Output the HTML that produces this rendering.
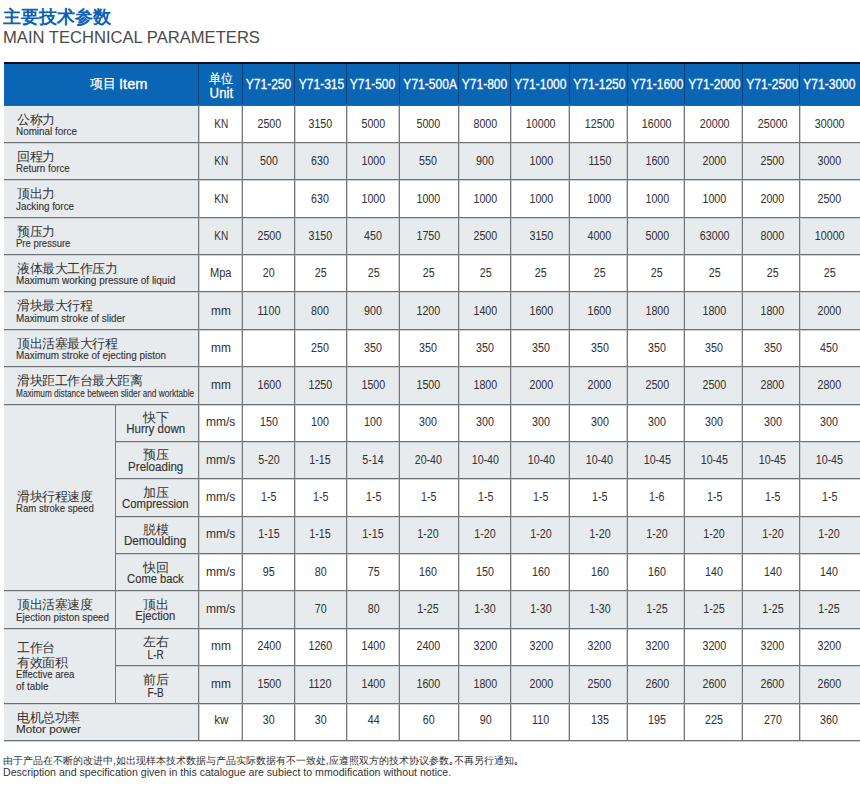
<!DOCTYPE html><html><head><meta charset="utf-8"><style>
*{margin:0;padding:0;box-sizing:border-box}
html,body{width:860px;height:789px;overflow:hidden;background:#fff}
body{position:relative;font-family:"Liberation Sans",sans-serif;color:#333333}
body>div{position:absolute;white-space:nowrap}
.title{font-size:18px;line-height:18px;font-weight:bold;color:#0a61b7}
.sub{font-size:16.6px;line-height:16.6px;color:#4a4a4a}
.hd{color:#fff;font-size:14px;line-height:14px;-webkit-text-stroke:0.3px #fff}
.hdz{color:#fff;font-size:13px;line-height:13px;transform:scaleX(0.92);transform-origin:50% 0;-webkit-text-stroke:0.2px #fff}
.hdz2{color:#fff;font-size:13px;line-height:14px;transform:scale(0.97);transform-origin:0 50%;-webkit-text-stroke:0.2px #fff}
.hdu{color:#fff;font-size:15px;line-height:15px;-webkit-text-stroke:0.3px #fff}
.hm{color:#fff;font-size:14px;line-height:14px;-webkit-text-stroke:0.3px #fff}
.d{font-size:12px;line-height:12px;-webkit-text-stroke:0.05px #333333}
.zh{font-size:13px;line-height:13px;transform:scale(0.965);transform-origin:0 0}
.zhc{font-size:13px;line-height:13px;transform:scale(0.965);transform-origin:50% 0}
.en{font-size:11.8px;line-height:11.8px;-webkit-text-stroke:0.15px #333333}
.en2{font-size:12px;line-height:12px;-webkit-text-stroke:0.15px #333333}
.fn{font-size:10.15px;line-height:10.15px;color:#333}
.fn2{font-size:10.6px;line-height:10.6px;color:#333}
</style></head><body>
<div class="title" style="left:3.00px;top:8.00px;">主要技术参数</div>
<div class="sub" style="left:3.00px;top:29.50px;">MAIN TECHNICAL PARAMETERS</div>
<div style="left:4.00px;top:62.00px;width:856.00px;height:2.00px;background:#0c0f1c"></div>
<div style="left:4.00px;top:64.00px;width:856.00px;height:41.00px;background:#0a65b5"></div>
<div style="left:4.00px;top:106.00px;width:194.00px;height:37.00px;background:#e8ebee"></div>
<div style="left:4.00px;top:143.00px;width:194.00px;height:37.00px;background:#e8ebee"></div>
<div style="left:198.00px;top:143.00px;width:662.00px;height:37.00px;background:#e8ebee"></div>
<div style="left:4.00px;top:180.00px;width:194.00px;height:38.00px;background:#e8ebee"></div>
<div style="left:4.00px;top:218.00px;width:194.00px;height:37.00px;background:#e8ebee"></div>
<div style="left:198.00px;top:218.00px;width:662.00px;height:37.00px;background:#e8ebee"></div>
<div style="left:4.00px;top:255.00px;width:194.00px;height:37.00px;background:#e8ebee"></div>
<div style="left:4.00px;top:292.00px;width:194.00px;height:38.00px;background:#e8ebee"></div>
<div style="left:198.00px;top:292.00px;width:662.00px;height:38.00px;background:#e8ebee"></div>
<div style="left:4.00px;top:330.00px;width:194.00px;height:37.00px;background:#e8ebee"></div>
<div style="left:4.00px;top:367.00px;width:194.00px;height:38.00px;background:#e8ebee"></div>
<div style="left:198.00px;top:367.00px;width:662.00px;height:38.00px;background:#e8ebee"></div>
<div style="left:4.00px;top:405.00px;width:194.00px;height:37.00px;background:#e8ebee"></div>
<div style="left:4.00px;top:442.00px;width:194.00px;height:37.00px;background:#e8ebee"></div>
<div style="left:198.00px;top:442.00px;width:662.00px;height:37.00px;background:#e8ebee"></div>
<div style="left:4.00px;top:479.00px;width:194.00px;height:38.00px;background:#e8ebee"></div>
<div style="left:4.00px;top:517.00px;width:194.00px;height:37.00px;background:#e8ebee"></div>
<div style="left:198.00px;top:517.00px;width:662.00px;height:37.00px;background:#e8ebee"></div>
<div style="left:4.00px;top:554.00px;width:194.00px;height:37.00px;background:#e8ebee"></div>
<div style="left:4.00px;top:591.00px;width:194.00px;height:38.00px;background:#e8ebee"></div>
<div style="left:198.00px;top:591.00px;width:662.00px;height:38.00px;background:#e8ebee"></div>
<div style="left:4.00px;top:629.00px;width:194.00px;height:37.00px;background:#e8ebee"></div>
<div style="left:4.00px;top:666.00px;width:194.00px;height:38.00px;background:#e8ebee"></div>
<div style="left:198.00px;top:666.00px;width:662.00px;height:38.00px;background:#e8ebee"></div>
<div style="left:4.00px;top:704.00px;width:194.00px;height:37.00px;background:#e8ebee"></div>
<div style="left:198.00px;top:64.00px;width:1.00px;height:40.00px;background:#0b3f75"></div>
<div style="left:199.00px;top:105.00px;width:1.00px;height:635.00px;background:#cdd0d3"></div>
<div style="left:242.00px;top:64.00px;width:1.00px;height:40.00px;background:#0b3f75"></div>
<div style="left:241.00px;top:105.00px;width:1.00px;height:635.00px;background:#cdd0d3"></div>
<div style="left:294.00px;top:64.00px;width:1.00px;height:40.00px;background:#0b3f75"></div>
<div style="left:295.00px;top:105.00px;width:1.00px;height:635.00px;background:#cdd0d3"></div>
<div style="left:346.00px;top:64.00px;width:1.00px;height:40.00px;background:#0b3f75"></div>
<div style="left:347.00px;top:105.00px;width:1.00px;height:635.00px;background:#cdd0d3"></div>
<div style="left:399.00px;top:64.00px;width:1.00px;height:40.00px;background:#0b3f75"></div>
<div style="left:398.00px;top:105.00px;width:1.00px;height:635.00px;background:#cdd0d3"></div>
<div style="left:458.00px;top:64.00px;width:1.00px;height:40.00px;background:#0b3f75"></div>
<div style="left:459.00px;top:105.00px;width:1.00px;height:635.00px;background:#cdd0d3"></div>
<div style="left:510.00px;top:64.00px;width:1.00px;height:40.00px;background:#0b3f75"></div>
<div style="left:511.00px;top:105.00px;width:1.00px;height:635.00px;background:#cdd0d3"></div>
<div style="left:569.00px;top:64.00px;width:1.00px;height:40.00px;background:#0b3f75"></div>
<div style="left:568.00px;top:105.00px;width:1.00px;height:635.00px;background:#cdd0d3"></div>
<div style="left:627.00px;top:64.00px;width:1.00px;height:40.00px;background:#0b3f75"></div>
<div style="left:626.00px;top:105.00px;width:1.00px;height:635.00px;background:#cdd0d3"></div>
<div style="left:684.00px;top:64.00px;width:1.00px;height:40.00px;background:#0b3f75"></div>
<div style="left:683.00px;top:105.00px;width:1.00px;height:635.00px;background:#cdd0d3"></div>
<div style="left:742.00px;top:64.00px;width:1.00px;height:40.00px;background:#0b3f75"></div>
<div style="left:741.00px;top:105.00px;width:1.00px;height:635.00px;background:#cdd0d3"></div>
<div style="left:799.00px;top:64.00px;width:1.00px;height:40.00px;background:#0b3f75"></div>
<div style="left:800.00px;top:105.00px;width:1.00px;height:635.00px;background:#cdd0d3"></div>
<div style="left:4.00px;top:142.00px;width:856.00px;height:1.00px;background:#6e7174"></div>
<div style="left:4.00px;top:143.00px;width:856.00px;height:1.00px;background:#cdd0d3"></div>
<div style="left:4.00px;top:179.00px;width:856.00px;height:1.00px;background:#6e7174"></div>
<div style="left:4.00px;top:180.00px;width:856.00px;height:1.00px;background:#cdd0d3"></div>
<div style="left:4.00px;top:217.00px;width:856.00px;height:1.00px;background:#6e7174"></div>
<div style="left:4.00px;top:218.00px;width:856.00px;height:1.00px;background:#cdd0d3"></div>
<div style="left:4.00px;top:254.00px;width:856.00px;height:1.00px;background:#6e7174"></div>
<div style="left:4.00px;top:255.00px;width:856.00px;height:1.00px;background:#cdd0d3"></div>
<div style="left:4.00px;top:291.00px;width:856.00px;height:1.00px;background:#6e7174"></div>
<div style="left:4.00px;top:292.00px;width:856.00px;height:1.00px;background:#cdd0d3"></div>
<div style="left:4.00px;top:329.00px;width:856.00px;height:1.00px;background:#6e7174"></div>
<div style="left:4.00px;top:330.00px;width:856.00px;height:1.00px;background:#cdd0d3"></div>
<div style="left:4.00px;top:366.00px;width:856.00px;height:1.00px;background:#6e7174"></div>
<div style="left:4.00px;top:367.00px;width:856.00px;height:1.00px;background:#cdd0d3"></div>
<div style="left:4.00px;top:404.00px;width:856.00px;height:1.00px;background:#6e7174"></div>
<div style="left:4.00px;top:405.00px;width:856.00px;height:1.00px;background:#cdd0d3"></div>
<div style="left:115.00px;top:441.00px;width:745.00px;height:1.00px;background:#6e7174"></div>
<div style="left:115.00px;top:442.00px;width:745.00px;height:1.00px;background:#cdd0d3"></div>
<div style="left:115.00px;top:478.00px;width:745.00px;height:1.00px;background:#6e7174"></div>
<div style="left:115.00px;top:479.00px;width:745.00px;height:1.00px;background:#cdd0d3"></div>
<div style="left:115.00px;top:516.00px;width:745.00px;height:1.00px;background:#6e7174"></div>
<div style="left:115.00px;top:517.00px;width:745.00px;height:1.00px;background:#cdd0d3"></div>
<div style="left:115.00px;top:553.00px;width:745.00px;height:1.00px;background:#6e7174"></div>
<div style="left:115.00px;top:554.00px;width:745.00px;height:1.00px;background:#cdd0d3"></div>
<div style="left:4.00px;top:590.00px;width:856.00px;height:1.00px;background:#6e7174"></div>
<div style="left:4.00px;top:591.00px;width:856.00px;height:1.00px;background:#cdd0d3"></div>
<div style="left:4.00px;top:628.00px;width:856.00px;height:1.00px;background:#6e7174"></div>
<div style="left:4.00px;top:629.00px;width:856.00px;height:1.00px;background:#cdd0d3"></div>
<div style="left:115.00px;top:665.00px;width:745.00px;height:1.00px;background:#6e7174"></div>
<div style="left:115.00px;top:666.00px;width:745.00px;height:1.00px;background:#cdd0d3"></div>
<div style="left:4.00px;top:703.00px;width:856.00px;height:1.00px;background:#6e7174"></div>
<div style="left:4.00px;top:704.00px;width:856.00px;height:1.00px;background:#cdd0d3"></div>
<div style="left:4.00px;top:740.00px;width:856.00px;height:1.00px;background:#6e7174"></div>
<div style="left:4.00px;top:741.00px;width:856.00px;height:1.00px;background:#cdd0d3"></div>
<div style="left:4.00px;top:105.00px;width:856.00px;height:1.00px;background:#4f5f70"></div>
<div style="left:198.00px;top:105.00px;width:1.00px;height:635.00px;background:#74777a"></div>
<div style="left:242.00px;top:105.00px;width:1.00px;height:635.00px;background:#74777a"></div>
<div style="left:294.00px;top:105.00px;width:1.00px;height:635.00px;background:#74777a"></div>
<div style="left:346.00px;top:105.00px;width:1.00px;height:635.00px;background:#74777a"></div>
<div style="left:399.00px;top:105.00px;width:1.00px;height:635.00px;background:#74777a"></div>
<div style="left:458.00px;top:105.00px;width:1.00px;height:635.00px;background:#74777a"></div>
<div style="left:510.00px;top:105.00px;width:1.00px;height:635.00px;background:#74777a"></div>
<div style="left:569.00px;top:105.00px;width:1.00px;height:635.00px;background:#74777a"></div>
<div style="left:627.00px;top:105.00px;width:1.00px;height:635.00px;background:#74777a"></div>
<div style="left:684.00px;top:105.00px;width:1.00px;height:635.00px;background:#74777a"></div>
<div style="left:742.00px;top:105.00px;width:1.00px;height:635.00px;background:#74777a"></div>
<div style="left:799.00px;top:105.00px;width:1.00px;height:635.00px;background:#74777a"></div>
<div style="left:115.00px;top:404.00px;width:1.00px;height:300.00px;background:#74777a"></div>
<div class="hdz2" style="left:90.00px;top:76.50px;">项目</div>
<div class="hd" style="left:119.30px;top:76.50px;"><span style="display:inline-block;transform:scaleX(1.047);transform-origin:left 50%">Item</span></div>
<div class="hdz" style="left:198.50px;top:71.50px;width:44.00px;text-align:center;padding-left:1px">单位</div>
<div class="hdu" style="left:198.50px;top:85.00px;width:44.00px;text-align:center;padding-left:1px"><span style="display:inline-block;transform:scaleX(0.880);transform-origin:center 50%">Unit</span></div>
<div class="hm" style="left:242.20px;top:77.00px;width:52.40px;text-align:center;"><span style="display:inline-block;transform:scaleX(0.860);transform-origin:center 50%">Y71-250</span></div>
<div class="hm" style="left:294.60px;top:77.00px;width:51.60px;text-align:center;"><span style="display:inline-block;transform:scaleX(0.860);transform-origin:center 50%">Y71-315</span></div>
<div class="hm" style="left:346.20px;top:77.00px;width:53.00px;text-align:center;"><span style="display:inline-block;transform:scaleX(0.860);transform-origin:center 50%">Y71-500</span></div>
<div class="hm" style="left:399.20px;top:77.00px;width:59.00px;text-align:center;"><span style="display:inline-block;transform:scaleX(0.860);transform-origin:center 50%">Y71-500A</span></div>
<div class="hm" style="left:458.20px;top:77.00px;width:52.00px;text-align:center;"><span style="display:inline-block;transform:scaleX(0.860);transform-origin:center 50%">Y71-800</span></div>
<div class="hm" style="left:510.20px;top:77.00px;width:59.00px;text-align:center;"><span style="display:inline-block;transform:scaleX(0.860);transform-origin:center 50%">Y71-1000</span></div>
<div class="hm" style="left:569.20px;top:77.00px;width:57.70px;text-align:center;"><span style="display:inline-block;transform:scaleX(0.860);transform-origin:center 50%">Y71-1250</span></div>
<div class="hm" style="left:626.90px;top:77.00px;width:57.30px;text-align:center;"><span style="display:inline-block;transform:scaleX(0.860);transform-origin:center 50%">Y71-1600</span></div>
<div class="hm" style="left:684.20px;top:77.00px;width:57.70px;text-align:center;"><span style="display:inline-block;transform:scaleX(0.860);transform-origin:center 50%">Y71-2000</span></div>
<div class="hm" style="left:741.90px;top:77.00px;width:57.30px;text-align:center;"><span style="display:inline-block;transform:scaleX(0.860);transform-origin:center 50%">Y71-2500</span></div>
<div class="hm" style="left:799.20px;top:77.00px;width:60.50px;text-align:center;"><span style="display:inline-block;transform:scaleX(0.860);transform-origin:center 50%">Y71-3000</span></div>
<div class="d" style="left:199.10px;top:117.96px;width:44.00px;text-align:center;"><span style="display:inline-block;transform:scaleX(0.839);transform-origin:center 50%">KN</span></div>
<div class="d" style="left:242.90px;top:117.96px;width:52.40px;text-align:center;"><span style="display:inline-block;transform:scaleX(0.890);transform-origin:center 50%">2500</span></div>
<div class="d" style="left:294.60px;top:117.96px;width:51.60px;text-align:center;"><span style="display:inline-block;transform:scaleX(0.890);transform-origin:center 50%">3150</span></div>
<div class="d" style="left:346.80px;top:117.96px;width:53.00px;text-align:center;"><span style="display:inline-block;transform:scaleX(0.890);transform-origin:center 50%">5000</span></div>
<div class="d" style="left:399.00px;top:117.96px;width:59.00px;text-align:center;"><span style="display:inline-block;transform:scaleX(0.890);transform-origin:center 50%">5000</span></div>
<div class="d" style="left:459.30px;top:117.96px;width:52.00px;text-align:center;"><span style="display:inline-block;transform:scaleX(0.890);transform-origin:center 50%">8000</span></div>
<div class="d" style="left:511.50px;top:117.96px;width:59.00px;text-align:center;"><span style="display:inline-block;transform:scaleX(0.890);transform-origin:center 50%">10000</span></div>
<div class="d" style="left:570.90px;top:117.96px;width:57.70px;text-align:center;"><span style="display:inline-block;transform:scaleX(0.890);transform-origin:center 50%">12500</span></div>
<div class="d" style="left:628.30px;top:117.96px;width:57.30px;text-align:center;"><span style="display:inline-block;transform:scaleX(0.890);transform-origin:center 50%">16000</span></div>
<div class="d" style="left:685.40px;top:117.96px;width:57.70px;text-align:center;"><span style="display:inline-block;transform:scaleX(0.890);transform-origin:center 50%">20000</span></div>
<div class="d" style="left:743.90px;top:117.96px;width:57.30px;text-align:center;"><span style="display:inline-block;transform:scaleX(0.890);transform-origin:center 50%">25000</span></div>
<div class="d" style="left:799.10px;top:117.96px;width:60.50px;text-align:center;"><span style="display:inline-block;transform:scaleX(0.890);transform-origin:center 50%">30000</span></div>
<div class="d" style="left:199.10px;top:155.27px;width:44.00px;text-align:center;"><span style="display:inline-block;transform:scaleX(0.839);transform-origin:center 50%">KN</span></div>
<div class="d" style="left:242.90px;top:155.27px;width:52.40px;text-align:center;"><span style="display:inline-block;transform:scaleX(0.890);transform-origin:center 50%">500</span></div>
<div class="d" style="left:294.60px;top:155.27px;width:51.60px;text-align:center;"><span style="display:inline-block;transform:scaleX(0.890);transform-origin:center 50%">630</span></div>
<div class="d" style="left:346.80px;top:155.27px;width:53.00px;text-align:center;"><span style="display:inline-block;transform:scaleX(0.890);transform-origin:center 50%">1000</span></div>
<div class="d" style="left:399.00px;top:155.27px;width:59.00px;text-align:center;"><span style="display:inline-block;transform:scaleX(0.890);transform-origin:center 50%">550</span></div>
<div class="d" style="left:459.30px;top:155.27px;width:52.00px;text-align:center;"><span style="display:inline-block;transform:scaleX(0.890);transform-origin:center 50%">900</span></div>
<div class="d" style="left:511.50px;top:155.27px;width:59.00px;text-align:center;"><span style="display:inline-block;transform:scaleX(0.890);transform-origin:center 50%">1000</span></div>
<div class="d" style="left:570.90px;top:155.27px;width:57.70px;text-align:center;"><span style="display:inline-block;transform:scaleX(0.890);transform-origin:center 50%">1150</span></div>
<div class="d" style="left:628.30px;top:155.27px;width:57.30px;text-align:center;"><span style="display:inline-block;transform:scaleX(0.890);transform-origin:center 50%">1600</span></div>
<div class="d" style="left:685.40px;top:155.27px;width:57.70px;text-align:center;"><span style="display:inline-block;transform:scaleX(0.890);transform-origin:center 50%">2000</span></div>
<div class="d" style="left:743.90px;top:155.27px;width:57.30px;text-align:center;"><span style="display:inline-block;transform:scaleX(0.890);transform-origin:center 50%">2500</span></div>
<div class="d" style="left:799.10px;top:155.27px;width:60.50px;text-align:center;"><span style="display:inline-block;transform:scaleX(0.890);transform-origin:center 50%">3000</span></div>
<div class="d" style="left:199.10px;top:192.58px;width:44.00px;text-align:center;"><span style="display:inline-block;transform:scaleX(0.839);transform-origin:center 50%">KN</span></div>
<div class="d" style="left:294.60px;top:192.58px;width:51.60px;text-align:center;"><span style="display:inline-block;transform:scaleX(0.890);transform-origin:center 50%">630</span></div>
<div class="d" style="left:346.80px;top:192.58px;width:53.00px;text-align:center;"><span style="display:inline-block;transform:scaleX(0.890);transform-origin:center 50%">1000</span></div>
<div class="d" style="left:399.00px;top:192.58px;width:59.00px;text-align:center;"><span style="display:inline-block;transform:scaleX(0.890);transform-origin:center 50%">1000</span></div>
<div class="d" style="left:459.30px;top:192.58px;width:52.00px;text-align:center;"><span style="display:inline-block;transform:scaleX(0.890);transform-origin:center 50%">1000</span></div>
<div class="d" style="left:511.50px;top:192.58px;width:59.00px;text-align:center;"><span style="display:inline-block;transform:scaleX(0.890);transform-origin:center 50%">1000</span></div>
<div class="d" style="left:570.90px;top:192.58px;width:57.70px;text-align:center;"><span style="display:inline-block;transform:scaleX(0.890);transform-origin:center 50%">1000</span></div>
<div class="d" style="left:628.30px;top:192.58px;width:57.30px;text-align:center;"><span style="display:inline-block;transform:scaleX(0.890);transform-origin:center 50%">1000</span></div>
<div class="d" style="left:685.40px;top:192.58px;width:57.70px;text-align:center;"><span style="display:inline-block;transform:scaleX(0.890);transform-origin:center 50%">1000</span></div>
<div class="d" style="left:743.90px;top:192.58px;width:57.30px;text-align:center;"><span style="display:inline-block;transform:scaleX(0.890);transform-origin:center 50%">2000</span></div>
<div class="d" style="left:799.10px;top:192.58px;width:60.50px;text-align:center;"><span style="display:inline-block;transform:scaleX(0.890);transform-origin:center 50%">2500</span></div>
<div class="d" style="left:199.10px;top:229.89px;width:44.00px;text-align:center;"><span style="display:inline-block;transform:scaleX(0.839);transform-origin:center 50%">KN</span></div>
<div class="d" style="left:242.90px;top:229.89px;width:52.40px;text-align:center;"><span style="display:inline-block;transform:scaleX(0.890);transform-origin:center 50%">2500</span></div>
<div class="d" style="left:294.60px;top:229.89px;width:51.60px;text-align:center;"><span style="display:inline-block;transform:scaleX(0.890);transform-origin:center 50%">3150</span></div>
<div class="d" style="left:346.80px;top:229.89px;width:53.00px;text-align:center;"><span style="display:inline-block;transform:scaleX(0.890);transform-origin:center 50%">450</span></div>
<div class="d" style="left:399.00px;top:229.89px;width:59.00px;text-align:center;"><span style="display:inline-block;transform:scaleX(0.890);transform-origin:center 50%">1750</span></div>
<div class="d" style="left:459.30px;top:229.89px;width:52.00px;text-align:center;"><span style="display:inline-block;transform:scaleX(0.890);transform-origin:center 50%">2500</span></div>
<div class="d" style="left:511.50px;top:229.89px;width:59.00px;text-align:center;"><span style="display:inline-block;transform:scaleX(0.890);transform-origin:center 50%">3150</span></div>
<div class="d" style="left:570.90px;top:229.89px;width:57.70px;text-align:center;"><span style="display:inline-block;transform:scaleX(0.890);transform-origin:center 50%">4000</span></div>
<div class="d" style="left:628.30px;top:229.89px;width:57.30px;text-align:center;"><span style="display:inline-block;transform:scaleX(0.890);transform-origin:center 50%">5000</span></div>
<div class="d" style="left:685.40px;top:229.89px;width:57.70px;text-align:center;"><span style="display:inline-block;transform:scaleX(0.890);transform-origin:center 50%">63000</span></div>
<div class="d" style="left:743.90px;top:229.89px;width:57.30px;text-align:center;"><span style="display:inline-block;transform:scaleX(0.890);transform-origin:center 50%">8000</span></div>
<div class="d" style="left:799.10px;top:229.89px;width:60.50px;text-align:center;"><span style="display:inline-block;transform:scaleX(0.890);transform-origin:center 50%">10000</span></div>
<div class="d" style="left:199.10px;top:267.20px;width:44.00px;text-align:center;"><span style="display:inline-block;transform:scaleX(0.919);transform-origin:center 50%">Mpa</span></div>
<div class="d" style="left:242.90px;top:267.20px;width:52.40px;text-align:center;"><span style="display:inline-block;transform:scaleX(0.890);transform-origin:center 50%">20</span></div>
<div class="d" style="left:294.60px;top:267.20px;width:51.60px;text-align:center;"><span style="display:inline-block;transform:scaleX(0.890);transform-origin:center 50%">25</span></div>
<div class="d" style="left:346.80px;top:267.20px;width:53.00px;text-align:center;"><span style="display:inline-block;transform:scaleX(0.890);transform-origin:center 50%">25</span></div>
<div class="d" style="left:399.00px;top:267.20px;width:59.00px;text-align:center;"><span style="display:inline-block;transform:scaleX(0.890);transform-origin:center 50%">25</span></div>
<div class="d" style="left:459.30px;top:267.20px;width:52.00px;text-align:center;"><span style="display:inline-block;transform:scaleX(0.890);transform-origin:center 50%">25</span></div>
<div class="d" style="left:511.50px;top:267.20px;width:59.00px;text-align:center;"><span style="display:inline-block;transform:scaleX(0.890);transform-origin:center 50%">25</span></div>
<div class="d" style="left:570.90px;top:267.20px;width:57.70px;text-align:center;"><span style="display:inline-block;transform:scaleX(0.890);transform-origin:center 50%">25</span></div>
<div class="d" style="left:628.30px;top:267.20px;width:57.30px;text-align:center;"><span style="display:inline-block;transform:scaleX(0.890);transform-origin:center 50%">25</span></div>
<div class="d" style="left:685.40px;top:267.20px;width:57.70px;text-align:center;"><span style="display:inline-block;transform:scaleX(0.890);transform-origin:center 50%">25</span></div>
<div class="d" style="left:743.90px;top:267.20px;width:57.30px;text-align:center;"><span style="display:inline-block;transform:scaleX(0.890);transform-origin:center 50%">25</span></div>
<div class="d" style="left:799.10px;top:267.20px;width:60.50px;text-align:center;"><span style="display:inline-block;transform:scaleX(0.890);transform-origin:center 50%">25</span></div>
<div class="d" style="left:199.10px;top:304.50px;width:44.00px;text-align:center;"><span style="display:inline-block;transform:scaleX(0.991);transform-origin:center 50%">mm</span></div>
<div class="d" style="left:242.90px;top:304.50px;width:52.40px;text-align:center;"><span style="display:inline-block;transform:scaleX(0.890);transform-origin:center 50%">1100</span></div>
<div class="d" style="left:294.60px;top:304.50px;width:51.60px;text-align:center;"><span style="display:inline-block;transform:scaleX(0.890);transform-origin:center 50%">800</span></div>
<div class="d" style="left:346.80px;top:304.50px;width:53.00px;text-align:center;"><span style="display:inline-block;transform:scaleX(0.890);transform-origin:center 50%">900</span></div>
<div class="d" style="left:399.00px;top:304.50px;width:59.00px;text-align:center;"><span style="display:inline-block;transform:scaleX(0.890);transform-origin:center 50%">1200</span></div>
<div class="d" style="left:459.30px;top:304.50px;width:52.00px;text-align:center;"><span style="display:inline-block;transform:scaleX(0.890);transform-origin:center 50%">1400</span></div>
<div class="d" style="left:511.50px;top:304.50px;width:59.00px;text-align:center;"><span style="display:inline-block;transform:scaleX(0.890);transform-origin:center 50%">1600</span></div>
<div class="d" style="left:570.90px;top:304.50px;width:57.70px;text-align:center;"><span style="display:inline-block;transform:scaleX(0.890);transform-origin:center 50%">1600</span></div>
<div class="d" style="left:628.30px;top:304.50px;width:57.30px;text-align:center;"><span style="display:inline-block;transform:scaleX(0.890);transform-origin:center 50%">1800</span></div>
<div class="d" style="left:685.40px;top:304.50px;width:57.70px;text-align:center;"><span style="display:inline-block;transform:scaleX(0.890);transform-origin:center 50%">1800</span></div>
<div class="d" style="left:743.90px;top:304.50px;width:57.30px;text-align:center;"><span style="display:inline-block;transform:scaleX(0.890);transform-origin:center 50%">1800</span></div>
<div class="d" style="left:799.10px;top:304.50px;width:60.50px;text-align:center;"><span style="display:inline-block;transform:scaleX(0.890);transform-origin:center 50%">2000</span></div>
<div class="d" style="left:199.10px;top:341.81px;width:44.00px;text-align:center;"><span style="display:inline-block;transform:scaleX(0.991);transform-origin:center 50%">mm</span></div>
<div class="d" style="left:294.60px;top:341.81px;width:51.60px;text-align:center;"><span style="display:inline-block;transform:scaleX(0.890);transform-origin:center 50%">250</span></div>
<div class="d" style="left:346.80px;top:341.81px;width:53.00px;text-align:center;"><span style="display:inline-block;transform:scaleX(0.890);transform-origin:center 50%">350</span></div>
<div class="d" style="left:399.00px;top:341.81px;width:59.00px;text-align:center;"><span style="display:inline-block;transform:scaleX(0.890);transform-origin:center 50%">350</span></div>
<div class="d" style="left:459.30px;top:341.81px;width:52.00px;text-align:center;"><span style="display:inline-block;transform:scaleX(0.890);transform-origin:center 50%">350</span></div>
<div class="d" style="left:511.50px;top:341.81px;width:59.00px;text-align:center;"><span style="display:inline-block;transform:scaleX(0.890);transform-origin:center 50%">350</span></div>
<div class="d" style="left:570.90px;top:341.81px;width:57.70px;text-align:center;"><span style="display:inline-block;transform:scaleX(0.890);transform-origin:center 50%">350</span></div>
<div class="d" style="left:628.30px;top:341.81px;width:57.30px;text-align:center;"><span style="display:inline-block;transform:scaleX(0.890);transform-origin:center 50%">350</span></div>
<div class="d" style="left:685.40px;top:341.81px;width:57.70px;text-align:center;"><span style="display:inline-block;transform:scaleX(0.890);transform-origin:center 50%">350</span></div>
<div class="d" style="left:743.90px;top:341.81px;width:57.30px;text-align:center;"><span style="display:inline-block;transform:scaleX(0.890);transform-origin:center 50%">350</span></div>
<div class="d" style="left:799.10px;top:341.81px;width:60.50px;text-align:center;"><span style="display:inline-block;transform:scaleX(0.890);transform-origin:center 50%">450</span></div>
<div class="d" style="left:199.10px;top:379.12px;width:44.00px;text-align:center;"><span style="display:inline-block;transform:scaleX(0.991);transform-origin:center 50%">mm</span></div>
<div class="d" style="left:242.90px;top:379.12px;width:52.40px;text-align:center;"><span style="display:inline-block;transform:scaleX(0.890);transform-origin:center 50%">1600</span></div>
<div class="d" style="left:294.60px;top:379.12px;width:51.60px;text-align:center;"><span style="display:inline-block;transform:scaleX(0.890);transform-origin:center 50%">1250</span></div>
<div class="d" style="left:346.80px;top:379.12px;width:53.00px;text-align:center;"><span style="display:inline-block;transform:scaleX(0.890);transform-origin:center 50%">1500</span></div>
<div class="d" style="left:399.00px;top:379.12px;width:59.00px;text-align:center;"><span style="display:inline-block;transform:scaleX(0.890);transform-origin:center 50%">1500</span></div>
<div class="d" style="left:459.30px;top:379.12px;width:52.00px;text-align:center;"><span style="display:inline-block;transform:scaleX(0.890);transform-origin:center 50%">1800</span></div>
<div class="d" style="left:511.50px;top:379.12px;width:59.00px;text-align:center;"><span style="display:inline-block;transform:scaleX(0.890);transform-origin:center 50%">2000</span></div>
<div class="d" style="left:570.90px;top:379.12px;width:57.70px;text-align:center;"><span style="display:inline-block;transform:scaleX(0.890);transform-origin:center 50%">2000</span></div>
<div class="d" style="left:628.30px;top:379.12px;width:57.30px;text-align:center;"><span style="display:inline-block;transform:scaleX(0.890);transform-origin:center 50%">2500</span></div>
<div class="d" style="left:685.40px;top:379.12px;width:57.70px;text-align:center;"><span style="display:inline-block;transform:scaleX(0.890);transform-origin:center 50%">2500</span></div>
<div class="d" style="left:743.90px;top:379.12px;width:57.30px;text-align:center;"><span style="display:inline-block;transform:scaleX(0.890);transform-origin:center 50%">2800</span></div>
<div class="d" style="left:799.10px;top:379.12px;width:60.50px;text-align:center;"><span style="display:inline-block;transform:scaleX(0.890);transform-origin:center 50%">2800</span></div>
<div class="d" style="left:199.10px;top:416.43px;width:44.00px;text-align:center;"><span style="display:inline-block;transform:scaleX(1.002);transform-origin:center 50%">mm/s</span></div>
<div class="d" style="left:242.90px;top:416.43px;width:52.40px;text-align:center;"><span style="display:inline-block;transform:scaleX(0.890);transform-origin:center 50%">150</span></div>
<div class="d" style="left:294.60px;top:416.43px;width:51.60px;text-align:center;"><span style="display:inline-block;transform:scaleX(0.890);transform-origin:center 50%">100</span></div>
<div class="d" style="left:346.80px;top:416.43px;width:53.00px;text-align:center;"><span style="display:inline-block;transform:scaleX(0.890);transform-origin:center 50%">100</span></div>
<div class="d" style="left:399.00px;top:416.43px;width:59.00px;text-align:center;"><span style="display:inline-block;transform:scaleX(0.890);transform-origin:center 50%">300</span></div>
<div class="d" style="left:459.30px;top:416.43px;width:52.00px;text-align:center;"><span style="display:inline-block;transform:scaleX(0.890);transform-origin:center 50%">300</span></div>
<div class="d" style="left:511.50px;top:416.43px;width:59.00px;text-align:center;"><span style="display:inline-block;transform:scaleX(0.890);transform-origin:center 50%">300</span></div>
<div class="d" style="left:570.90px;top:416.43px;width:57.70px;text-align:center;"><span style="display:inline-block;transform:scaleX(0.890);transform-origin:center 50%">300</span></div>
<div class="d" style="left:628.30px;top:416.43px;width:57.30px;text-align:center;"><span style="display:inline-block;transform:scaleX(0.890);transform-origin:center 50%">300</span></div>
<div class="d" style="left:685.40px;top:416.43px;width:57.70px;text-align:center;"><span style="display:inline-block;transform:scaleX(0.890);transform-origin:center 50%">300</span></div>
<div class="d" style="left:743.90px;top:416.43px;width:57.30px;text-align:center;"><span style="display:inline-block;transform:scaleX(0.890);transform-origin:center 50%">300</span></div>
<div class="d" style="left:799.10px;top:416.43px;width:60.50px;text-align:center;"><span style="display:inline-block;transform:scaleX(0.890);transform-origin:center 50%">300</span></div>
<div class="d" style="left:199.10px;top:453.74px;width:44.00px;text-align:center;"><span style="display:inline-block;transform:scaleX(1.002);transform-origin:center 50%">mm/s</span></div>
<div class="d" style="left:242.90px;top:453.74px;width:52.40px;text-align:center;"><span style="display:inline-block;transform:scaleX(0.890);transform-origin:center 50%">5-20</span></div>
<div class="d" style="left:294.60px;top:453.74px;width:51.60px;text-align:center;"><span style="display:inline-block;transform:scaleX(0.890);transform-origin:center 50%">1-15</span></div>
<div class="d" style="left:346.80px;top:453.74px;width:53.00px;text-align:center;"><span style="display:inline-block;transform:scaleX(0.890);transform-origin:center 50%">5-14</span></div>
<div class="d" style="left:399.00px;top:453.74px;width:59.00px;text-align:center;"><span style="display:inline-block;transform:scaleX(0.890);transform-origin:center 50%">20-40</span></div>
<div class="d" style="left:459.30px;top:453.74px;width:52.00px;text-align:center;"><span style="display:inline-block;transform:scaleX(0.890);transform-origin:center 50%">10-40</span></div>
<div class="d" style="left:511.50px;top:453.74px;width:59.00px;text-align:center;"><span style="display:inline-block;transform:scaleX(0.890);transform-origin:center 50%">10-40</span></div>
<div class="d" style="left:570.90px;top:453.74px;width:57.70px;text-align:center;"><span style="display:inline-block;transform:scaleX(0.890);transform-origin:center 50%">10-40</span></div>
<div class="d" style="left:628.30px;top:453.74px;width:57.30px;text-align:center;"><span style="display:inline-block;transform:scaleX(0.890);transform-origin:center 50%">10-45</span></div>
<div class="d" style="left:685.40px;top:453.74px;width:57.70px;text-align:center;"><span style="display:inline-block;transform:scaleX(0.890);transform-origin:center 50%">10-45</span></div>
<div class="d" style="left:743.90px;top:453.74px;width:57.30px;text-align:center;"><span style="display:inline-block;transform:scaleX(0.890);transform-origin:center 50%">10-45</span></div>
<div class="d" style="left:799.10px;top:453.74px;width:60.50px;text-align:center;"><span style="display:inline-block;transform:scaleX(0.890);transform-origin:center 50%">10-45</span></div>
<div class="d" style="left:199.10px;top:491.05px;width:44.00px;text-align:center;"><span style="display:inline-block;transform:scaleX(1.002);transform-origin:center 50%">mm/s</span></div>
<div class="d" style="left:242.90px;top:491.05px;width:52.40px;text-align:center;"><span style="display:inline-block;transform:scaleX(0.890);transform-origin:center 50%">1-5</span></div>
<div class="d" style="left:294.60px;top:491.05px;width:51.60px;text-align:center;"><span style="display:inline-block;transform:scaleX(0.890);transform-origin:center 50%">1-5</span></div>
<div class="d" style="left:346.80px;top:491.05px;width:53.00px;text-align:center;"><span style="display:inline-block;transform:scaleX(0.890);transform-origin:center 50%">1-5</span></div>
<div class="d" style="left:399.00px;top:491.05px;width:59.00px;text-align:center;"><span style="display:inline-block;transform:scaleX(0.890);transform-origin:center 50%">1-5</span></div>
<div class="d" style="left:459.30px;top:491.05px;width:52.00px;text-align:center;"><span style="display:inline-block;transform:scaleX(0.890);transform-origin:center 50%">1-5</span></div>
<div class="d" style="left:511.50px;top:491.05px;width:59.00px;text-align:center;"><span style="display:inline-block;transform:scaleX(0.890);transform-origin:center 50%">1-5</span></div>
<div class="d" style="left:570.90px;top:491.05px;width:57.70px;text-align:center;"><span style="display:inline-block;transform:scaleX(0.890);transform-origin:center 50%">1-5</span></div>
<div class="d" style="left:628.30px;top:491.05px;width:57.30px;text-align:center;"><span style="display:inline-block;transform:scaleX(0.890);transform-origin:center 50%">1-6</span></div>
<div class="d" style="left:685.40px;top:491.05px;width:57.70px;text-align:center;"><span style="display:inline-block;transform:scaleX(0.890);transform-origin:center 50%">1-5</span></div>
<div class="d" style="left:743.90px;top:491.05px;width:57.30px;text-align:center;"><span style="display:inline-block;transform:scaleX(0.890);transform-origin:center 50%">1-5</span></div>
<div class="d" style="left:799.10px;top:491.05px;width:60.50px;text-align:center;"><span style="display:inline-block;transform:scaleX(0.890);transform-origin:center 50%">1-5</span></div>
<div class="d" style="left:199.10px;top:528.36px;width:44.00px;text-align:center;"><span style="display:inline-block;transform:scaleX(1.002);transform-origin:center 50%">mm/s</span></div>
<div class="d" style="left:242.90px;top:528.36px;width:52.40px;text-align:center;"><span style="display:inline-block;transform:scaleX(0.890);transform-origin:center 50%">1-15</span></div>
<div class="d" style="left:294.60px;top:528.36px;width:51.60px;text-align:center;"><span style="display:inline-block;transform:scaleX(0.890);transform-origin:center 50%">1-15</span></div>
<div class="d" style="left:346.80px;top:528.36px;width:53.00px;text-align:center;"><span style="display:inline-block;transform:scaleX(0.890);transform-origin:center 50%">1-15</span></div>
<div class="d" style="left:399.00px;top:528.36px;width:59.00px;text-align:center;"><span style="display:inline-block;transform:scaleX(0.890);transform-origin:center 50%">1-20</span></div>
<div class="d" style="left:459.30px;top:528.36px;width:52.00px;text-align:center;"><span style="display:inline-block;transform:scaleX(0.890);transform-origin:center 50%">1-20</span></div>
<div class="d" style="left:511.50px;top:528.36px;width:59.00px;text-align:center;"><span style="display:inline-block;transform:scaleX(0.890);transform-origin:center 50%">1-20</span></div>
<div class="d" style="left:570.90px;top:528.36px;width:57.70px;text-align:center;"><span style="display:inline-block;transform:scaleX(0.890);transform-origin:center 50%">1-20</span></div>
<div class="d" style="left:628.30px;top:528.36px;width:57.30px;text-align:center;"><span style="display:inline-block;transform:scaleX(0.890);transform-origin:center 50%">1-20</span></div>
<div class="d" style="left:685.40px;top:528.36px;width:57.70px;text-align:center;"><span style="display:inline-block;transform:scaleX(0.890);transform-origin:center 50%">1-20</span></div>
<div class="d" style="left:743.90px;top:528.36px;width:57.30px;text-align:center;"><span style="display:inline-block;transform:scaleX(0.890);transform-origin:center 50%">1-20</span></div>
<div class="d" style="left:799.10px;top:528.36px;width:60.50px;text-align:center;"><span style="display:inline-block;transform:scaleX(0.890);transform-origin:center 50%">1-20</span></div>
<div class="d" style="left:199.10px;top:565.67px;width:44.00px;text-align:center;"><span style="display:inline-block;transform:scaleX(1.002);transform-origin:center 50%">mm/s</span></div>
<div class="d" style="left:242.90px;top:565.67px;width:52.40px;text-align:center;"><span style="display:inline-block;transform:scaleX(0.890);transform-origin:center 50%">95</span></div>
<div class="d" style="left:294.60px;top:565.67px;width:51.60px;text-align:center;"><span style="display:inline-block;transform:scaleX(0.890);transform-origin:center 50%">80</span></div>
<div class="d" style="left:346.80px;top:565.67px;width:53.00px;text-align:center;"><span style="display:inline-block;transform:scaleX(0.890);transform-origin:center 50%">75</span></div>
<div class="d" style="left:399.00px;top:565.67px;width:59.00px;text-align:center;"><span style="display:inline-block;transform:scaleX(0.890);transform-origin:center 50%">160</span></div>
<div class="d" style="left:459.30px;top:565.67px;width:52.00px;text-align:center;"><span style="display:inline-block;transform:scaleX(0.890);transform-origin:center 50%">150</span></div>
<div class="d" style="left:511.50px;top:565.67px;width:59.00px;text-align:center;"><span style="display:inline-block;transform:scaleX(0.890);transform-origin:center 50%">160</span></div>
<div class="d" style="left:570.90px;top:565.67px;width:57.70px;text-align:center;"><span style="display:inline-block;transform:scaleX(0.890);transform-origin:center 50%">160</span></div>
<div class="d" style="left:628.30px;top:565.67px;width:57.30px;text-align:center;"><span style="display:inline-block;transform:scaleX(0.890);transform-origin:center 50%">160</span></div>
<div class="d" style="left:685.40px;top:565.67px;width:57.70px;text-align:center;"><span style="display:inline-block;transform:scaleX(0.890);transform-origin:center 50%">140</span></div>
<div class="d" style="left:743.90px;top:565.67px;width:57.30px;text-align:center;"><span style="display:inline-block;transform:scaleX(0.890);transform-origin:center 50%">140</span></div>
<div class="d" style="left:799.10px;top:565.67px;width:60.50px;text-align:center;"><span style="display:inline-block;transform:scaleX(0.890);transform-origin:center 50%">140</span></div>
<div class="d" style="left:199.10px;top:602.98px;width:44.00px;text-align:center;"><span style="display:inline-block;transform:scaleX(1.002);transform-origin:center 50%">mm/s</span></div>
<div class="d" style="left:294.60px;top:602.98px;width:51.60px;text-align:center;"><span style="display:inline-block;transform:scaleX(0.890);transform-origin:center 50%">70</span></div>
<div class="d" style="left:346.80px;top:602.98px;width:53.00px;text-align:center;"><span style="display:inline-block;transform:scaleX(0.890);transform-origin:center 50%">80</span></div>
<div class="d" style="left:399.00px;top:602.98px;width:59.00px;text-align:center;"><span style="display:inline-block;transform:scaleX(0.890);transform-origin:center 50%">1-25</span></div>
<div class="d" style="left:459.30px;top:602.98px;width:52.00px;text-align:center;"><span style="display:inline-block;transform:scaleX(0.890);transform-origin:center 50%">1-30</span></div>
<div class="d" style="left:511.50px;top:602.98px;width:59.00px;text-align:center;"><span style="display:inline-block;transform:scaleX(0.890);transform-origin:center 50%">1-30</span></div>
<div class="d" style="left:570.90px;top:602.98px;width:57.70px;text-align:center;"><span style="display:inline-block;transform:scaleX(0.890);transform-origin:center 50%">1-30</span></div>
<div class="d" style="left:628.30px;top:602.98px;width:57.30px;text-align:center;"><span style="display:inline-block;transform:scaleX(0.890);transform-origin:center 50%">1-25</span></div>
<div class="d" style="left:685.40px;top:602.98px;width:57.70px;text-align:center;"><span style="display:inline-block;transform:scaleX(0.890);transform-origin:center 50%">1-25</span></div>
<div class="d" style="left:743.90px;top:602.98px;width:57.30px;text-align:center;"><span style="display:inline-block;transform:scaleX(0.890);transform-origin:center 50%">1-25</span></div>
<div class="d" style="left:799.10px;top:602.98px;width:60.50px;text-align:center;"><span style="display:inline-block;transform:scaleX(0.890);transform-origin:center 50%">1-25</span></div>
<div class="d" style="left:199.10px;top:640.29px;width:44.00px;text-align:center;"><span style="display:inline-block;transform:scaleX(0.991);transform-origin:center 50%">mm</span></div>
<div class="d" style="left:242.90px;top:640.29px;width:52.40px;text-align:center;"><span style="display:inline-block;transform:scaleX(0.890);transform-origin:center 50%">2400</span></div>
<div class="d" style="left:294.60px;top:640.29px;width:51.60px;text-align:center;"><span style="display:inline-block;transform:scaleX(0.890);transform-origin:center 50%">1260</span></div>
<div class="d" style="left:346.80px;top:640.29px;width:53.00px;text-align:center;"><span style="display:inline-block;transform:scaleX(0.890);transform-origin:center 50%">1400</span></div>
<div class="d" style="left:399.00px;top:640.29px;width:59.00px;text-align:center;"><span style="display:inline-block;transform:scaleX(0.890);transform-origin:center 50%">2400</span></div>
<div class="d" style="left:459.30px;top:640.29px;width:52.00px;text-align:center;"><span style="display:inline-block;transform:scaleX(0.890);transform-origin:center 50%">3200</span></div>
<div class="d" style="left:511.50px;top:640.29px;width:59.00px;text-align:center;"><span style="display:inline-block;transform:scaleX(0.890);transform-origin:center 50%">3200</span></div>
<div class="d" style="left:570.90px;top:640.29px;width:57.70px;text-align:center;"><span style="display:inline-block;transform:scaleX(0.890);transform-origin:center 50%">3200</span></div>
<div class="d" style="left:628.30px;top:640.29px;width:57.30px;text-align:center;"><span style="display:inline-block;transform:scaleX(0.890);transform-origin:center 50%">3200</span></div>
<div class="d" style="left:685.40px;top:640.29px;width:57.70px;text-align:center;"><span style="display:inline-block;transform:scaleX(0.890);transform-origin:center 50%">3200</span></div>
<div class="d" style="left:743.90px;top:640.29px;width:57.30px;text-align:center;"><span style="display:inline-block;transform:scaleX(0.890);transform-origin:center 50%">3200</span></div>
<div class="d" style="left:799.10px;top:640.29px;width:60.50px;text-align:center;"><span style="display:inline-block;transform:scaleX(0.890);transform-origin:center 50%">3200</span></div>
<div class="d" style="left:199.10px;top:677.59px;width:44.00px;text-align:center;"><span style="display:inline-block;transform:scaleX(0.991);transform-origin:center 50%">mm</span></div>
<div class="d" style="left:242.90px;top:677.59px;width:52.40px;text-align:center;"><span style="display:inline-block;transform:scaleX(0.890);transform-origin:center 50%">1500</span></div>
<div class="d" style="left:294.60px;top:677.59px;width:51.60px;text-align:center;"><span style="display:inline-block;transform:scaleX(0.890);transform-origin:center 50%">1120</span></div>
<div class="d" style="left:346.80px;top:677.59px;width:53.00px;text-align:center;"><span style="display:inline-block;transform:scaleX(0.890);transform-origin:center 50%">1400</span></div>
<div class="d" style="left:399.00px;top:677.59px;width:59.00px;text-align:center;"><span style="display:inline-block;transform:scaleX(0.890);transform-origin:center 50%">1600</span></div>
<div class="d" style="left:459.30px;top:677.59px;width:52.00px;text-align:center;"><span style="display:inline-block;transform:scaleX(0.890);transform-origin:center 50%">1800</span></div>
<div class="d" style="left:511.50px;top:677.59px;width:59.00px;text-align:center;"><span style="display:inline-block;transform:scaleX(0.890);transform-origin:center 50%">2000</span></div>
<div class="d" style="left:570.90px;top:677.59px;width:57.70px;text-align:center;"><span style="display:inline-block;transform:scaleX(0.890);transform-origin:center 50%">2500</span></div>
<div class="d" style="left:628.30px;top:677.59px;width:57.30px;text-align:center;"><span style="display:inline-block;transform:scaleX(0.890);transform-origin:center 50%">2600</span></div>
<div class="d" style="left:685.40px;top:677.59px;width:57.70px;text-align:center;"><span style="display:inline-block;transform:scaleX(0.890);transform-origin:center 50%">2600</span></div>
<div class="d" style="left:743.90px;top:677.59px;width:57.30px;text-align:center;"><span style="display:inline-block;transform:scaleX(0.890);transform-origin:center 50%">2600</span></div>
<div class="d" style="left:799.10px;top:677.59px;width:60.50px;text-align:center;"><span style="display:inline-block;transform:scaleX(0.890);transform-origin:center 50%">2600</span></div>
<div class="d" style="left:199.10px;top:714.10px;width:44.00px;text-align:center;"><span style="display:inline-block;transform:scaleX(0.973);transform-origin:center 50%">kw</span></div>
<div class="d" style="left:242.90px;top:714.10px;width:52.40px;text-align:center;"><span style="display:inline-block;transform:scaleX(0.890);transform-origin:center 50%">30</span></div>
<div class="d" style="left:294.60px;top:714.10px;width:51.60px;text-align:center;"><span style="display:inline-block;transform:scaleX(0.890);transform-origin:center 50%">30</span></div>
<div class="d" style="left:346.80px;top:714.10px;width:53.00px;text-align:center;"><span style="display:inline-block;transform:scaleX(0.890);transform-origin:center 50%">44</span></div>
<div class="d" style="left:399.00px;top:714.10px;width:59.00px;text-align:center;"><span style="display:inline-block;transform:scaleX(0.890);transform-origin:center 50%">60</span></div>
<div class="d" style="left:459.30px;top:714.10px;width:52.00px;text-align:center;"><span style="display:inline-block;transform:scaleX(0.890);transform-origin:center 50%">90</span></div>
<div class="d" style="left:511.50px;top:714.10px;width:59.00px;text-align:center;"><span style="display:inline-block;transform:scaleX(0.890);transform-origin:center 50%">110</span></div>
<div class="d" style="left:570.90px;top:714.10px;width:57.70px;text-align:center;"><span style="display:inline-block;transform:scaleX(0.890);transform-origin:center 50%">135</span></div>
<div class="d" style="left:628.30px;top:714.10px;width:57.30px;text-align:center;"><span style="display:inline-block;transform:scaleX(0.890);transform-origin:center 50%">195</span></div>
<div class="d" style="left:685.40px;top:714.10px;width:57.70px;text-align:center;"><span style="display:inline-block;transform:scaleX(0.890);transform-origin:center 50%">225</span></div>
<div class="d" style="left:743.90px;top:714.10px;width:57.30px;text-align:center;"><span style="display:inline-block;transform:scaleX(0.890);transform-origin:center 50%">270</span></div>
<div class="d" style="left:799.10px;top:714.10px;width:60.50px;text-align:center;"><span style="display:inline-block;transform:scaleX(0.890);transform-origin:center 50%">360</span></div>
<div class="zh" style="left:17.00px;top:112.56px;">公称力</div>
<div class="en" style="left:16.00px;top:125.96px;"><span style="display:inline-block;transform:scaleX(0.838);transform-origin:left 50%">Nominal force</span></div>
<div class="zh" style="left:17.00px;top:149.94px;">回程力</div>
<div class="en" style="left:16.00px;top:163.34px;"><span style="display:inline-block;transform:scaleX(0.827);transform-origin:left 50%">Return force</span></div>
<div class="zh" style="left:17.00px;top:187.32px;">顶出力</div>
<div class="en" style="left:16.00px;top:200.72px;"><span style="display:inline-block;transform:scaleX(0.835);transform-origin:left 50%">Jacking force</span></div>
<div class="zh" style="left:17.00px;top:224.70px;">预压力</div>
<div class="en" style="left:16.00px;top:238.10px;"><span style="display:inline-block;transform:scaleX(0.805);transform-origin:left 50%">Pre pressure</span></div>
<div class="zh" style="left:17.00px;top:262.08px;">液体最大工作压力</div>
<div class="en" style="left:16.00px;top:275.48px;"><span style="display:inline-block;transform:scaleX(0.846);transform-origin:left 50%">Maximum working pressure of liquid</span></div>
<div class="zh" style="left:17.00px;top:299.45px;">滑块最大行程</div>
<div class="en" style="left:16.00px;top:312.85px;"><span style="display:inline-block;transform:scaleX(0.834);transform-origin:left 50%">Maximum stroke of slider</span></div>
<div class="zh" style="left:17.00px;top:336.83px;">顶出活塞最大行程</div>
<div class="en" style="left:16.00px;top:350.23px;"><span style="display:inline-block;transform:scaleX(0.841);transform-origin:left 50%">Maximum stroke of ejecting piston</span></div>
<div class="zh" style="left:17.00px;top:374.21px;">滑块距工作台最大距离</div>
<div class="en" style="left:16.00px;top:387.61px;"><span style="display:inline-block;transform:scaleX(0.700);transform-origin:left 50%">Maximum distance between slider and worktable</span></div>
<div class="zh" style="left:17.00px;top:598.49px;">顶出活塞速度</div>
<div class="en" style="left:16.00px;top:611.89px;"><span style="display:inline-block;transform:scaleX(0.829);transform-origin:left 50%">Ejection piston speed</span></div>
<div class="zh" style="left:17.00px;top:710.62px;">电机总功率</div>
<div class="en" style="left:16.00px;top:724.02px;"><span style="display:inline-block;transform:scaleX(0.991);transform-origin:left 50%">Motor power</span></div>
<div class="zhc" style="left:115.50px;top:411.09px;width:80.00px;text-align:center;">快下</div>
<div class="en2" style="left:115.50px;top:423.19px;width:80.00px;text-align:center;"><span style="display:inline-block;transform:scaleX(0.961);transform-origin:center 50%">Hurry down</span></div>
<div class="zhc" style="left:115.50px;top:448.47px;width:80.00px;text-align:center;">预压</div>
<div class="en2" style="left:115.50px;top:460.57px;width:80.00px;text-align:center;"><span style="display:inline-block;transform:scaleX(0.962);transform-origin:center 50%">Preloading</span></div>
<div class="zhc" style="left:115.50px;top:485.85px;width:80.00px;text-align:center;">加压</div>
<div class="en2" style="left:115.50px;top:497.95px;width:80.00px;text-align:center;"><span style="display:inline-block;transform:scaleX(0.942);transform-origin:center 50%">Compression</span></div>
<div class="zhc" style="left:115.50px;top:523.23px;width:80.00px;text-align:center;">脱模</div>
<div class="en2" style="left:115.50px;top:535.33px;width:80.00px;text-align:center;"><span style="display:inline-block;transform:scaleX(0.972);transform-origin:center 50%">Demoulding</span></div>
<div class="zhc" style="left:115.50px;top:560.61px;width:80.00px;text-align:center;">快回</div>
<div class="en2" style="left:115.50px;top:572.71px;width:80.00px;text-align:center;"><span style="display:inline-block;transform:scaleX(0.931);transform-origin:center 50%">Come back</span></div>
<div class="zhc" style="left:115.50px;top:597.99px;width:80.00px;text-align:center;">顶出</div>
<div class="en2" style="left:115.50px;top:610.09px;width:80.00px;text-align:center;"><span style="display:inline-block;transform:scaleX(0.936);transform-origin:center 50%">Ejection</span></div>
<div class="zhc" style="left:115.50px;top:635.37px;width:80.00px;text-align:center;">左右</div>
<div class="en2" style="left:115.50px;top:648.77px;width:80.00px;text-align:center;"><span style="display:inline-block;transform:scaleX(0.833);transform-origin:center 50%">L-R</span></div>
<div class="zhc" style="left:115.50px;top:672.74px;width:80.00px;text-align:center;">前后</div>
<div class="en2" style="left:115.50px;top:686.84px;width:80.00px;text-align:center;"><span style="display:inline-block;transform:scaleX(0.839);transform-origin:center 50%">F-B</span></div>
<div class="zh" style="left:17.00px;top:490.00px;">滑块行程速度</div>
<div class="en" style="left:16.00px;top:503.40px;"><span style="display:inline-block;transform:scaleX(0.812);transform-origin:left 50%">Ram stroke speed</span></div>
<div class="zh" style="left:17.00px;top:641.00px;">工作台</div>
<div class="zh" style="left:17.00px;top:656.20px;">有效面积</div>
<div class="en" style="left:16.00px;top:669.30px;"><span style="display:inline-block;transform:scaleX(0.811);transform-origin:left 50%">Effective area</span></div>
<div class="en" style="left:16.00px;top:680.70px;"><span style="display:inline-block;transform:scaleX(0.837);transform-origin:left 50%">of table</span></div>
<div class="fn" style="left:3.00px;top:756.00px;">由于产品在不断的改进中,如出现样本技术数据与产品实际数据有不一致处,应遵照双方的技术协议参数｡不再另行通知｡</div>
<div class="fn2" style="left:3.00px;top:767.00px;">Description and specification given in this catalogue are subiect to mmodification without notice.</div>
</body></html>
